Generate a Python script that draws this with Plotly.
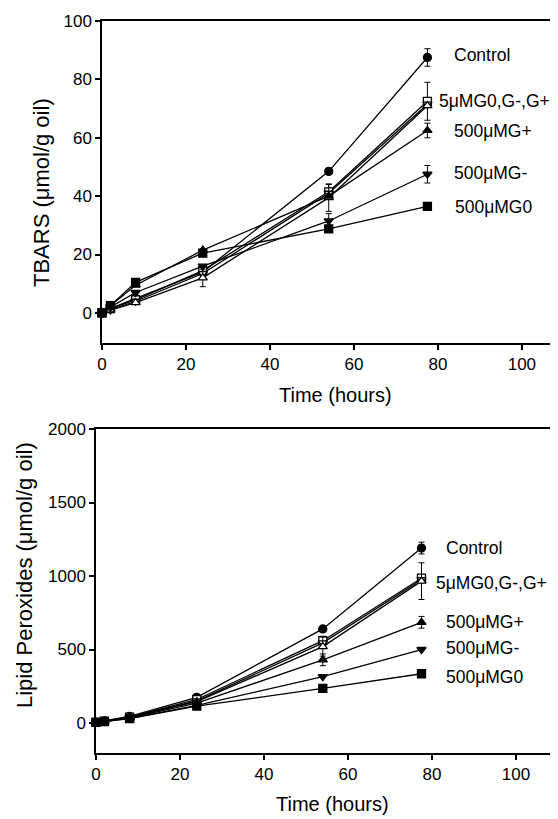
import plotly.graph_objects as go

# sampling times (hours)
hours = [0, 2, 8, 24, 54, 77.5]

groups = ["Control", "5μMG0", "5μMG-", "5μMG+", "500μMG+", "500μMG-", "500μMG0"]
symbols = ["circle", "square", "triangle-down", "triangle-up", "triangle-up", "triangle-down", "square"]
fills = ["black", "white", "white", "white", "black", "black", "black"]

# TBARS (umol/g oil)
tbars = {
    "Control": [0, 1.5, 5, 14, 48.5, 87.5],
    "5μMG0": [0, 1.5, 4.5, 14.5, 41.5, 72.5],
    "5μMG-": [0, 1, 4, 13.5, 41, 71.5],
    "5μMG+": [0, 1, 3.5, 12, 39.5, 71],
    "500μMG+": [0, 2.5, 9.5, 21.5, 40, 62.5],
    "500μMG-": [0, 2, 7, 16, 31.5, 47.5],
    "500μMG0": [0, 2.5, 10.5, 20.5, 28.8, 36.5],
}
tbars_err = {
    "Control": [0, 0, 0, 0, 0, 3],
    "5μMG0": [0, 0, 0, 0, 2.5, 6.5],
    "5μMG-": [0, 0, 0, 0, 0, 0],
    "5μMG+": [0, 0, 0, 3, 4.7, 0],
    "500μMG+": [0, 0, 0, 0, 0, 2.5],
    "500μMG-": [0, 0, 0, 0, 2.5, 3],
    "500μMG0": [0, 0, 0, 0, 0, 0],
}

# lipid peroxides (umol/g oil)
perox = {
    "Control": [5, 15, 45, 175, 640, 1190],
    "5μMG0": [5, 12, 40, 160, 560, 985],
    "5μMG-": [5, 12, 38, 150, 545, 975],
    "5μMG+": [5, 12, 38, 145, 520, 965],
    "500μMG+": [5, 12, 35, 135, 430, 685],
    "500μMG-": [5, 10, 32, 120, 315, 500],
    "500μMG0": [5, 10, 30, 115, 235, 335],
}
perox_err = {
    "Control": [0, 0, 0, 0, 0, 40],
    "5μMG0": [0, 0, 0, 0, 30, 0],
    "5μMG-": [0, 0, 0, 0, 0, 0],
    "5μMG+": [0, 0, 0, 0, 65, 125],
    "500μMG+": [0, 0, 0, 0, 40, 40],
    "500μMG-": [0, 0, 0, 0, 0, 0],
    "500μMG0": [0, 0, 0, 0, 0, 0],
}

labels = ["Control", "5μMG0,G-,G+", "500μMG+", "500μMG-", "500μMG0"]
tbars_label_x = [83.3, 79.8, 83.3, 83.3, 83.5]
tbars_label_y = [88.4, 72.6, 62.3, 48, 36.3]
perox_label_x = [82.9, 80.5, 82.9, 82.9, 82.9]
perox_label_y = [1192, 952, 687, 510, 313]

FONT = "Arial, Liberation Sans, sans-serif"

# the page body has an 8px margin, so the figure is a bit smaller than the window
OFF = 8
W, H = 558 - OFF, 819 - OFF


def px(x):
    return (x - OFF) / W


def py(y):
    return 1 - (y - OFF) / H


fig = go.Figure()

for data, err, xa, ya in [(tbars, tbars_err, "x", "y"), (perox, perox_err, "x2", "y2")]:
    for g, sym, fc in zip(groups, symbols, fills):
        fig.add_trace(go.Scatter(
            x=hours, y=data[g], xaxis=xa, yaxis=ya, mode="lines+markers",
            line=dict(color="black", width=1.3),
            marker=dict(symbol=sym, size=8, color=fc, line=dict(color="black", width=1.3)),
            error_y=dict(type="data", array=err[g], color="black", thickness=1, width=3),
            showlegend=False, cliponaxis=False,
        ))

axis_common = dict(
    showgrid=False, zeroline=False, showline=True, linecolor="black", linewidth=1.5,
    ticks="outside", ticklen=5, tickwidth=1.5, tickcolor="black", automargin=False,
    tickfont=dict(family=FONT, size=17, color="black"),
)

fig.update_layout(
    width=W, height=H,
    margin=dict(l=0, r=0, t=0, b=0),
    paper_bgcolor="white", plot_bgcolor="white",
    xaxis=dict(domain=[px(102), 1], range=[0, 108.6], tickvals=[0, 20, 40, 60, 80, 100],
               anchor="y", mirror=True, **axis_common),
    yaxis=dict(domain=[py(343), py(21)], range=[-10.3, 100], tickvals=[0, 20, 40, 60, 80, 100],
               anchor="x", **axis_common),
    xaxis2=dict(domain=[px(96), 1], range=[0, 110], tickvals=[0, 20, 40, 60, 80, 100],
                anchor="y2", mirror=True, **axis_common),
    yaxis2=dict(domain=[py(753), py(429)], range=[-204, 2000], tickvals=[0, 500, 1000, 1500, 2000],
                anchor="x2", **axis_common),
)

ann = []
for t, lx, ly in zip(labels, tbars_label_x, tbars_label_y):
    ann.append(dict(text=t, x=lx, y=ly, xref="x", yref="y", xanchor="left", yanchor="middle",
                    showarrow=False, font=dict(family=FONT, size=17.5, color="black")))
for t, lx, ly in zip(labels, perox_label_x, perox_label_y):
    ann.append(dict(text=t, x=lx, y=ly, xref="x2", yref="y2", xanchor="left", yanchor="middle",
                    showarrow=False, font=dict(family=FONT, size=17.5, color="black")))

# axis titles
xtitle_font = dict(family=FONT, size=20, color="black")
ytitle_font = dict(family=FONT, size=22, color="black")
title_pos = dict(xref="paper", yref="paper", xanchor="center", yanchor="middle", showarrow=False)
ann += [
    dict(text="Time (hours)", x=px(335), y=py(395), font=xtitle_font, **title_pos),
    dict(text="TBARS (μmol/g oil)", x=px(41), y=py(193), textangle=-90, font=ytitle_font, **title_pos),
    dict(text="Time (hours)", x=px(332), y=py(804), font=xtitle_font, **title_pos),
    dict(text="Lipid Peroxides (μmol/g oil)", x=px(24), y=py(575), textangle=-90,
         font=ytitle_font, **title_pos),
]
fig.update_layout(annotations=ann)

fig.write_html("out.html")
